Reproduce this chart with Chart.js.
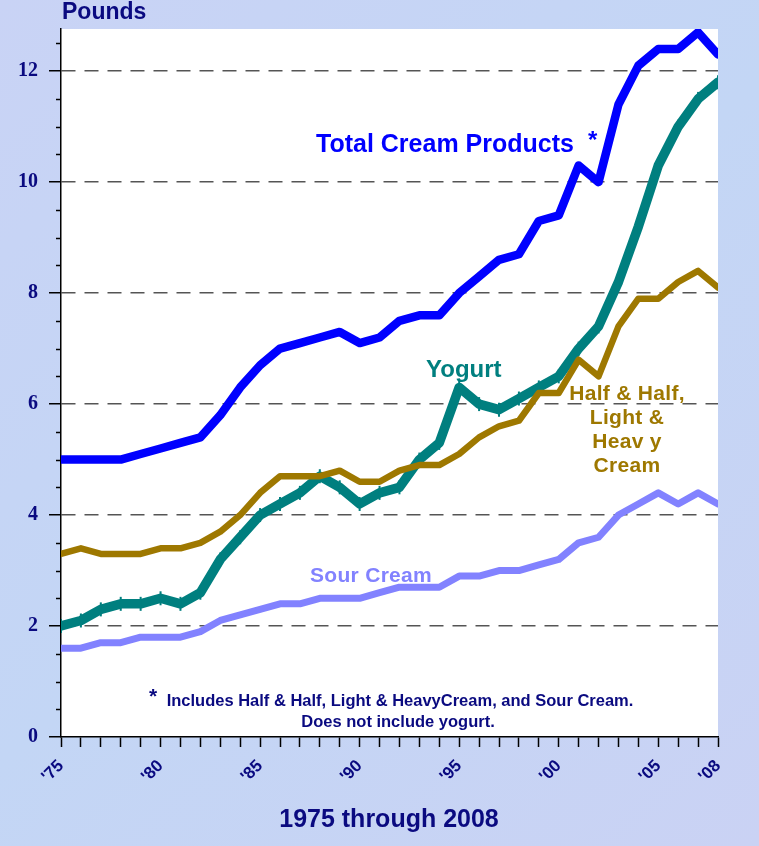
<!DOCTYPE html>
<html><head><meta charset="utf-8">
<script src="https://cdn.jsdelivr.net/npm/chart.js@4"></script>
<style>
html,body{margin:0;padding:0;background:#c6d4f4;}
canvas{display:block;}
</style></head><body>
<canvas id="c" width="759" height="846"></canvas>
<script>
const years = [1975,1976,1977,1978,1979,1980,1981,1982,1983,1984,1985,1986,1987,1988,1989,1990,1991,1992,1993,1994,1995,1996,1997,1998,1999,2000,2001,2002,2003,2004,2005,2006,2007,2008];
const totalCream = [5.0,5.0,5.0,5.0,5.1,5.2,5.3,5.4,5.8,6.3,6.7,7.0,7.1,7.2,7.3,7.1,7.2,7.5,7.6,7.6,8.0,8.3,8.6,8.7,9.3,9.4,10.3,10.0,11.4,12.1,12.4,12.4,12.7,12.3];
const yogurt = [2.0,2.1,2.3,2.4,2.4,2.5,2.4,2.6,3.2,3.6,4.0,4.2,4.4,4.7,4.5,4.2,4.4,4.5,5.0,5.3,6.3,6.0,5.9,6.1,6.3,6.5,7.0,7.4,8.2,9.2,10.3,11.0,11.5,11.8];
const halfHalf = [3.3,3.4,3.3,3.3,3.3,3.4,3.4,3.5,3.7,4.0,4.4,4.7,4.7,4.7,4.8,4.6,4.6,4.8,4.9,4.9,5.1,5.4,5.6,5.7,6.2,6.2,6.8,6.5,7.4,7.9,7.9,8.2,8.4,8.1];
const sourCream = [1.6,1.6,1.7,1.7,1.8,1.8,1.8,1.9,2.1,2.2,2.3,2.4,2.4,2.5,2.5,2.5,2.6,2.7,2.7,2.7,2.9,2.9,3.0,3.0,3.1,3.2,3.5,3.6,4.0,4.2,4.4,4.2,4.4,4.2];
const xTickLabels = {1975:"'75",1980:"'80",1985:"'85",1990:"'90",1995:"'95",2000:"'00",2005:"'05",2008:"'08"};
const yTicks = [0,2,4,6,8,10,12];
const yMinorTicks = [0.5,1,1.5,2.5,3,3.5,4.5,5,5.5,6.5,7,7.5,8.5,9,9.5,10.5,11,11.5,12.5];
const yMax = 12.76;

const NAVY = '#0a0a80';
const BLUE = '#0000ff';
const TEAL = '#007f7f';
const BROWN = '#9e7800';
const LAV = '#8282ff';

const toXY = arr => arr.map((v,i)=>({x:years[i], y:v}));

const decor = {
  id:'decor',
  beforeDraw(chart){
    const {ctx, chartArea:a} = chart;
    ctx.save();
    const g = ctx.createLinearGradient(0,0,chart.width,chart.height);
    g.addColorStop(0,'#c9d3f5');
    g.addColorStop(0.5,'#c3d6f5');
    g.addColorStop(1,'#cad2f4');
    ctx.fillStyle = g;
    ctx.fillRect(0,0,chart.width,chart.height);
    ctx.fillStyle = '#ffffff';
    ctx.fillRect(a.left, a.top, a.right-a.left, a.bottom-a.top);
    ctx.restore();
  },
  afterDraw(chart){
    const {ctx, chartArea:a} = chart;
    const ys = chart.scales.y;
    ctx.save();
    ctx.strokeStyle = '#000';
    ctx.lineWidth = 1.5;
    yMinorTicks.forEach(v=>{
      const py = Math.round(ys.getPixelForValue(v))+0.5;
      ctx.beginPath(); ctx.moveTo(a.left-5, py); ctx.lineTo(a.left, py); ctx.stroke();
    });
    const txt = (s, x, y, font, color, align, ls) => {
      ctx.font = font; ctx.fillStyle = color; ctx.textAlign = align || 'left';
      ctx.textBaseline = 'alphabetic';
      ctx.letterSpacing = (ls||0)+'px';
      ctx.fillText(s, x, y);
    };
    const AR = '"Liberation Sans", Arial, sans-serif';
    txt('Pounds', 62, 19, 'bold 23px '+AR, NAVY, 'left', 0);
    txt('Total Cream Products', 316, 152, 'bold 25px '+AR, BLUE, 'left', 0);
    txt('*', 588, 148, 'bold 24px '+AR, BLUE, 'left', 0);
    txt('Yogurt', 426, 377, 'bold 24px '+AR, TEAL, 'left', 0);
    txt('Half & Half,', 627, 400, 'bold 21px '+AR, BROWN, 'center', 0.3);
    txt('Light &', 627, 424, 'bold 21px '+AR, BROWN, 'center', 0.3);
    txt('Heav y', 627, 448, 'bold 21px '+AR, BROWN, 'center', 0.3);
    txt('Cream', 627, 472, 'bold 21px '+AR, BROWN, 'center', 0.3);
    txt('Sour Cream', 310, 582, 'bold 21px '+AR, LAV, 'left', 0.3);
    txt('*', 149, 703, 'bold 21px '+AR, NAVY, 'left', 0);
    txt('Includes Half & Half, Light & HeavyCream, and Sour Cream.', 400, 706, 'bold 16.5px '+AR, NAVY, 'center', 0);
    txt('Does not include yogurt.', 398, 727, 'bold 16.5px '+AR, NAVY, 'center', 0);
    txt('1975 through 2008', 389, 827, 'bold 25px '+AR, NAVY, 'center', 0);
    ctx.restore();
  }
};

const lineDs = (label, data, color, width, order, extra) => Object.assign({
  label, data: toXY(data), borderColor: color, backgroundColor: color,
  borderWidth: width, pointRadius: 0, fill: false, tension: 0,
  borderJoinStyle: 'round', borderCapStyle: 'round', order
}, extra||{});

new Chart(document.getElementById('c'), {
  type: 'line',
  data: {
    datasets: [
      lineDs('Total Cream Products', totalCream, BLUE, 8.5, 1),
      lineDs('Half & Half, Light & Heavy Cream', halfHalf, BROWN, 6.5, 2),
      lineDs('Yogurt', yogurt, TEAL, 9.5, 3, {pointStyle:'line', pointRotation:90, pointRadius:7, pointBorderWidth:2, pointBorderColor:TEAL}),
      lineDs('Sour Cream', sourCream, LAV, 7, 4)
    ]
  },
  options: {
    responsive: false,
    devicePixelRatio: 1,
    animation: false,
    layout: { autoPadding: false, padding: { top: 29, right: 41, left: 0, bottom: 0 } },
    plugins: { legend: { display: false }, tooltip: { enabled: false } },
    scales: {
      x: {
        type: 'linear', min: 1975, max: 2008,
        afterBuildTicks: s => { s.ticks = years.map(v => ({ value: v })); },
        afterFit: s => { s.height = 109; s.paddingLeft = 0; s.paddingRight = 0; },
        ticks: {
          autoSkip: false, minRotation: 45, maxRotation: 45, padding: 9,
          callback: v => xTickLabels[v] || '',
          font: { family: '"Liberation Sans", Arial, sans-serif', size: 17, weight: 'bold' },
          color: NAVY
        },
        grid: { drawOnChartArea: false, drawTicks: true, tickLength: 10, tickColor: '#000', tickWidth: 1.5 },
        border: { color: '#000', width: 1.5 }
      },
      y: {
        type: 'linear', min: 0, max: yMax,
        afterBuildTicks: s => { s.ticks = yTicks.map(v => ({ value: v })); },
        afterFit: s => { s.width = 61; s.paddingTop = 0; s.paddingBottom = 0; },
        ticks: {
          padding: 11,
          font: { family: '"Liberation Serif", "Times New Roman", serif', size: 20, weight: 'bold' },
          color: NAVY
        },
        grid: {
          color: c => (c.tick && c.tick.value === 0) ? 'rgba(0,0,0,0)' : '#555',
          lineWidth: 1.5, tickLength: 12, tickColor: '#000', tickWidth: 1.5, tickBorderDash: []
        },
        border: { color: '#000', width: 1.5, dash: [14, 9] }
      }
    }
  },
  plugins: [decor]
});
</script>
</body></html>
